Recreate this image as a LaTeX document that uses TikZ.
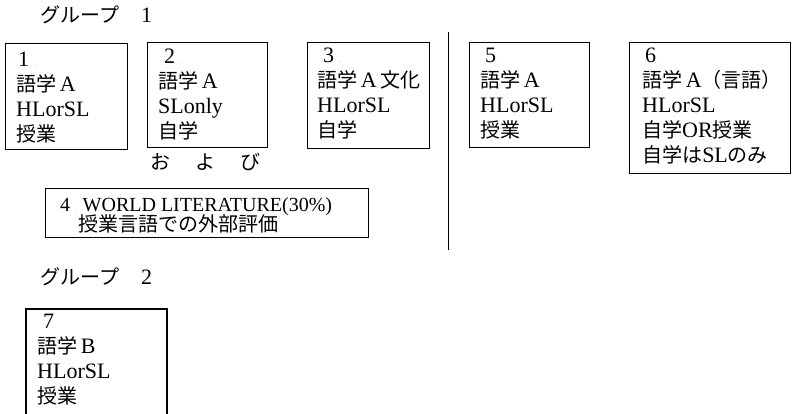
\documentclass[tikz,border=0pt]{standalone}
\usepackage{fontspec}
\setmainfont{Liberation Serif}
\newfontfamily\jpfont{Noto Sans CJK JP}[Scale=0.91]
\newcommand\jp[1]{{\jpfont #1}}
\newcommand\dotmark{{\fontsize{6}{6}\selectfont\color{gray}.}}
\begin{document}
\begin{tikzpicture}[x=1pt,y=-1pt,
  boxline/.style={draw, line width=1.4pt, inner sep=0pt, anchor=north west},
  boxtext/.style={anchor=north west, inner sep=0pt, align=left, font=\fontsize{22}{25}\selectfont},
  plainlabel/.style={anchor=base west, inner sep=0pt, font=\fontsize{22}{25}\selectfont}]
\useasboundingbox (0,0) rectangle (793,414);

% group 1 heading
\node[plainlabel] (g1) at (40,23) {\jp{グループ}\hspace{22pt}1};

% boxes
\node[boxline, minimum width=122pt, minimum height=106pt] (b1) at (5,43) {};
\node[boxline, minimum width=120pt, minimum height=105pt] (b2) at (147,42) {};
\node[boxline, minimum width=122pt, minimum height=106pt] (b3) at (307,42) {};
\node[boxline, minimum width=120pt, minimum height=105pt] (b5) at (469,42) {};
\node[boxline, minimum width=161pt, minimum height=131pt] (b6) at (629,42) {};
\node[boxline, minimum width=323pt, minimum height=49pt] (b4) at (45,188) {};

% box texts
\node[boxtext] (t1) at (16,49) {\strut\hspace{2pt}1 \dotmark\\ \jp{語学}\,A\\ HLorSL\\ \jp{授業}};
\node[boxtext] (t2) at (158,46) {\strut\hspace{6pt}2 \dotmark\\ \jp{語学}\,A\\ SLonly\\ \jp{自学}};
\node[boxtext] (t3) at (317,45) {\strut\hspace{6pt}3 \dotmark\\ \jp{語学}\,A\,\jp{文化}\\ HLorSL\\ \jp{自学}};
\node[boxtext] (t5) at (480,45) {\strut\hspace{5pt}5 \dotmark\\ \jp{語学}\,A\\ HLorSL\\ \jp{授業}};
\node[boxtext] (t6) at (642,45) {\strut\hspace{3pt}6 \dotmark\\ \jp{語学}\,A\jp{（言語）}\\ HLorSL\\ \jp{自学}OR\jp{授業}\\ \jp{自学は}SL\jp{のみ}};

% "and"
\node[plainlabel] (oyobi) at (150,170) {\jp{お}\hspace{25pt}\jp{よ}\hspace{25pt}\jp{び}};

% box 4 text
\node[plainlabel, font=\fontsize{20}{20}\selectfont] (t4a) at (60,212) {4 \dotmark\hspace{6pt}WORLD LITERATURE(30\%)};
\node[plainlabel] (t4b) at (78,232) {\jp{授業言語での外部評価}};

% divider
\coordinate (vtop) at (448.5,32);
\coordinate (vbot) at (448.5,250);
\draw[line width=1.1pt] (vtop) -- (vbot);

% group 2 heading
\node[plainlabel] (g2) at (40,285) {\jp{グループ}\hspace{22pt}2};

% box 7 (open at the bottom)
\coordinate (b7bl) at (26,414);
\coordinate (b7tl) at (26,309);
\coordinate (b7tr) at (167,309);
\coordinate (b7br) at (167,414);
\draw[line width=1.4pt] (b7bl) -- (b7tl) -- (b7tr) -- (b7br);
\node[boxtext] (t7) at (37,311) {\strut\hspace{6pt}7\\ \jp{語学}\,B\\ HLorSL\\ \jp{授業}};
\end{tikzpicture}
\end{document}
